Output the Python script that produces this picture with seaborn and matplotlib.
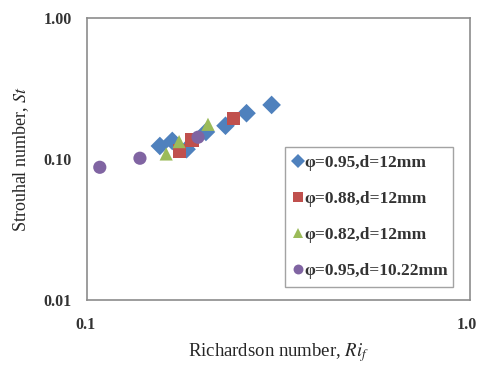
import matplotlib
matplotlib.use("Agg")
import matplotlib.pyplot as plt
import matplotlib.transforms as mtransforms
import seaborn as sns
import pandas as pd
from matplotlib.ticker import FixedLocator, LogLocator, NullFormatter

series_labels = ["φ=0.95,d=12mm", "φ=0.88,d=12mm", "φ=0.82,d=12mm", "φ=0.95,d=10.22mm"]

ri_s1 = [0.155, 0.167, 0.182, 0.2045, 0.230, 0.261, 0.3035]
st_s1 = [0.1236, 0.1342, 0.1172, 0.1554, 0.172, 0.211, 0.2415]

ri_s2 = [0.174, 0.188, 0.241]
st_s2 = [0.114, 0.1364, 0.1944]

ri_s3 = [0.161, 0.174, 0.207]
st_s3 = [0.1085, 0.1327, 0.176]

ri_s4 = [0.108, 0.1375, 0.195]
st_s4 = [0.0873, 0.1012, 0.1426]

colors = ["#4F81BD", "#C0504D", "#9BBB59", "#8064A2"]
markers = ["D", "s", "^", "o"]

frames = []
for lab, xs, ys in zip(series_labels, [ri_s1, ri_s2, ri_s3, ri_s4], [st_s1, st_s2, st_s3, st_s4]):
    frames.append(pd.DataFrame({"Ri": xs, "St": ys, "series": lab}))
df = pd.concat(frames, ignore_index=True)

sns.set_style("white")
plt.rcParams["font.family"] = ["Liberation Serif", "DejaVu Serif"]
plt.rcParams["mathtext.fontset"] = "stix"

fig = plt.figure(figsize=(4.78, 3.65), dpi=100)
ax = fig.add_axes([0.182, 0.178, 0.801, 0.773])

sns.scatterplot(data=df, x="Ri", y="St", hue="series", style="series",
                hue_order=series_labels, style_order=series_labels,
                palette=dict(zip(series_labels, colors)),
                markers=dict(zip(series_labels, markers)),
                s=90, edgecolor="none", linewidth=0, ax=ax, legend=True, zorder=3)

ax.set_xscale("log")
ax.set_yscale("log")
ax.set_xlim(0.1, 1.0)
ax.set_ylim(0.01, 1.0)

ax.xaxis.set_major_locator(FixedLocator([0.1, 1.0]))
ax.set_xticklabels(["0.1", "1.0"])
ax.yaxis.set_major_locator(FixedLocator([0.01, 0.1, 1.0]))
ax.set_yticklabels(["0.01", "0.10", "1.00"])
ax.xaxis.set_minor_locator(LogLocator(base=10, subs=range(2, 10)))
ax.yaxis.set_minor_locator(LogLocator(base=10, subs=range(2, 10)))
ax.xaxis.set_minor_formatter(NullFormatter())
ax.yaxis.set_minor_formatter(NullFormatter())

ax.tick_params(axis="both", which="both", direction="in", color="#888888")
ax.tick_params(axis="both", which="major", length=4, labelsize=11.5, labelcolor="#333333")
ax.tick_params(axis="both", which="minor", length=3)
ax.tick_params(axis="y", which="major", pad=11)
ax.tick_params(axis="x", which="major", pad=12)
xlabels = ax.get_xticklabels()
for lbl in xlabels + ax.get_yticklabels():
    lbl.set_fontweight("bold")
shift = mtransforms.ScaledTranslation(-2 / 72, 0, fig.dpi_scale_trans)
xlabels[-1].set_transform(xlabels[-1].get_transform() + shift)
shift0 = mtransforms.ScaledTranslation(-1 / 72, 0, fig.dpi_scale_trans)
xlabels[0].set_transform(xlabels[0].get_transform() + shift0)

for sp in ax.spines.values():
    sp.set_color("#8c8c8c")
    sp.set_linewidth(1.2)

ax.set_xlabel(r"Richardson number, $\mathit{Ri}_{\mathit{f}}$", fontsize=13.5, labelpad=6)
ax.set_ylabel(r"Strouhal number, $\mathit{St}$", fontsize=13, labelpad=9)

handles, labels = ax.get_legend_handles_labels()
leg = ax.legend(handles, labels, loc="lower left", bbox_to_anchor=(0.517, 0.046, 0.44, 0.512),
                mode="expand", frameon=True, fancybox=False, edgecolor="#8c8c8c",
                prop={"family": "Liberation Serif", "weight": "bold", "size": 12.5},
                labelspacing=1.15, handletextpad=0.05, borderpad=0.45, handlelength=0.6,
                markerscale=0.75, borderaxespad=0)
leg.get_frame().set_linewidth(1.0)
for t in leg.get_texts():
    t.set_color("#333333")

fig.savefig("out.png", dpi=100)
